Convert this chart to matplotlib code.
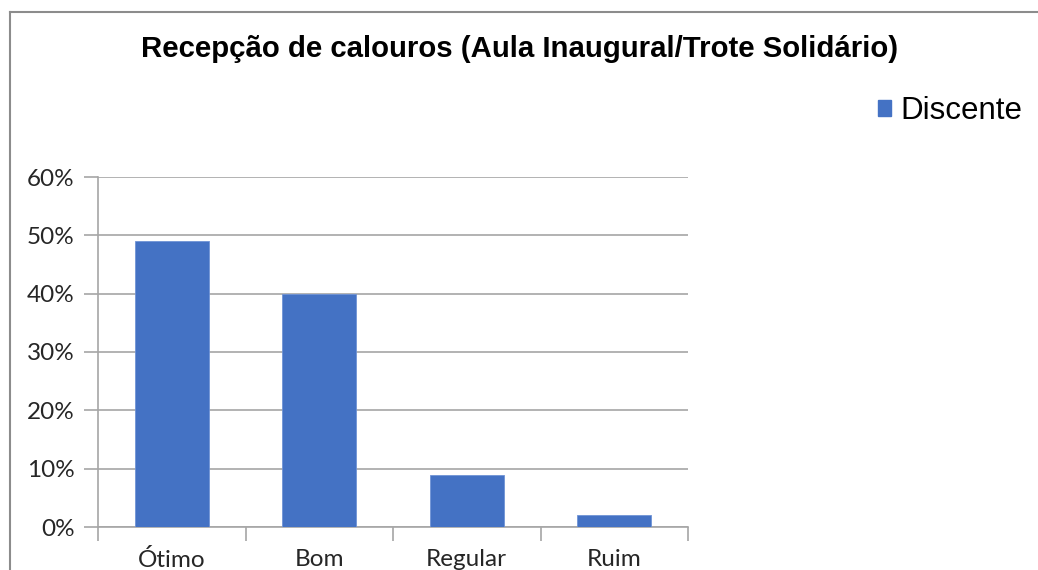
import matplotlib
matplotlib.use("Agg")
import matplotlib.pyplot as plt
from matplotlib.ticker import FixedLocator, PercentFormatter
from matplotlib.lines import Line2D
from matplotlib.patches import Patch

categories = ["Ótimo", "Bom", "Regular", "Ruim"]
discente = [0.49, 0.40, 0.09, 0.02]
yticks = [0, 0.1, 0.2, 0.3, 0.4, 0.5, 0.6]
title = "Recepção de calouros (Aula Inaugural/Trote Solidário)"
series_name = "Discente"

bar_color = "#4472C4"
grid_color = "#A6A6A6"

fig = plt.figure(figsize=(10.38, 5.70), dpi=100)
ax = fig.add_axes([98/1038, 1-527/570, (688-98)/1038, (527-177)/570])

x = list(range(len(categories)))
ax.bar(x, discente, width=0.5, color=bar_color, edgecolor="#6f93d6", linewidth=0.6, zorder=3)

ax.set_xlim(-0.5, len(categories) - 0.5)
ax.set_ylim(0, 0.6)
ax.set_yticks(yticks)
ax.yaxis.set_major_formatter(PercentFormatter(1.0, decimals=0))
ax.grid(axis="y", color=grid_color, linewidth=1.2, zorder=0)
ax.set_axisbelow(True)

ax.set_xticks(x)
ax.set_xticklabels(categories)
ax.xaxis.set_minor_locator(FixedLocator([i - 0.5 for i in range(len(categories) + 1)]))
ax.tick_params(axis="x", which="major", length=0, pad=15.5, labelsize=17.5, labelcolor="#262626")
ax.tick_params(axis="x", which="minor", length=10, width=1.2, color=grid_color)
ax.tick_params(axis="y", length=10, width=1.2, color=grid_color, pad=7, labelsize=17.5, labelcolor="#262626")
for lab in ax.get_xticklabels() + ax.get_yticklabels():
    lab.set_fontfamily(["Lato", "DejaVu Sans"])

for s in ["top", "right"]:
    ax.spines[s].set_visible(False)
for s in ["left", "bottom"]:
    ax.spines[s].set_color(grid_color)
    ax.spines[s].set_linewidth(1.2)

fig.text(520/1038, 1-49/570, title, ha="center", va="center", fontsize=21.2,
         fontweight="bold", family=["Liberation Sans", "DejaVu Sans"], color="black")

# legend
leg = fig.legend(handles=[Patch(facecolor=bar_color, edgecolor=bar_color)], labels=[series_name],
                 loc="center left", bbox_to_anchor=(862/1038, 1-111/570), frameon=False,
                 prop={"family": "Liberation Sans", "size": 22.5}, handlelength=0.42, handleheight=0.42,
                 handletextpad=0.3, borderpad=0)

# chart-area frame (top and left edges)
fig.add_artist(Line2D([10/1038, 1.0], [1-12/570, 1-12/570], transform=fig.transFigure, color="#8c8c8c", linewidth=1.5))
fig.add_artist(Line2D([10/1038, 10/1038], [0, 1-12/570], transform=fig.transFigure, color="#8c8c8c", linewidth=1.5))

fig.savefig("out.png", dpi=100, facecolor="white")
